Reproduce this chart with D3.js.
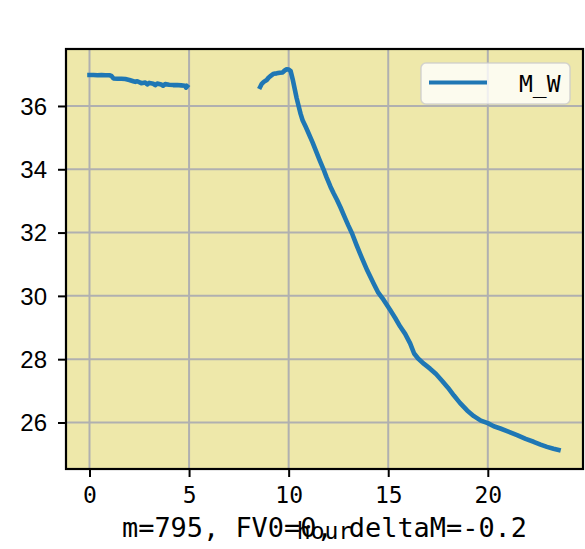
<!DOCTYPE html>
<html><head><meta charset="utf-8">
<script src="https://cdn.jsdelivr.net/npm/d3@7"></script>
<style>body{margin:0;background:#fff}</style>
</head><body>
<script>
// ---- data ----
const seg1X = [0.0,0.2,0.4,0.6,0.8,1.0,1.1,1.2,1.4,1.6,1.8,2.0,2.2,2.3,2.4,2.6,2.8,2.9,3.0,3.2,3.3,3.4,3.6,3.7,3.8,4.0,4.2,4.4,4.6,4.8,4.85,4.9];
const seg1Y = [36.98,36.98,36.97,36.98,36.97,36.97,36.95,36.87,36.86,36.86,36.85,36.82,36.78,36.76,36.78,36.72,36.74,36.68,36.73,36.70,36.66,36.71,36.68,36.64,36.69,36.67,36.66,36.66,36.65,36.64,36.58,36.62];
const seg2X = [8.57,8.65,8.75,8.9,9.0,9.1,9.25,9.4,9.55,9.7,9.8,9.9,10.0,10.1,10.2,10.3,10.4,10.5,10.6,10.7,10.85,11.0,11.2,11.35,11.55,11.75,11.9,12.1,12.25,12.43,12.6,12.84,13.0,13.18,13.4,13.68,13.95,14.26,14.5,14.77,15.1,15.35,15.6,15.85,16.1,16.3,16.5,16.8,17.1,17.4,17.7,18.0,18.3,18.6,18.96,19.3,19.65,20.0,20.3,20.63,21.0,21.47,21.9,22.3,22.65,22.97,23.3,23.55];
const seg2Y = [36.60,36.70,36.76,36.82,36.90,36.95,37.02,37.03,37.05,37.06,37.12,37.16,37.15,37.10,36.85,36.55,36.25,36.00,35.75,35.55,35.35,35.14,34.85,34.61,34.30,34.00,33.75,33.45,33.25,33.03,32.80,32.45,32.22,31.98,31.62,31.19,30.80,30.40,30.10,29.87,29.55,29.30,29.03,28.80,28.50,28.18,28.02,27.85,27.70,27.53,27.32,27.10,26.85,26.62,26.38,26.20,26.06,25.98,25.88,25.81,25.72,25.60,25.48,25.39,25.30,25.23,25.17,25.13];
const xTicks = [0,5,10,15,20];
const yTicks = [26,28,30,32,34,36];
const xLimits = [-1.18, 24.78];
const yLimits = [24.53, 37.80];
const seriesName = "M_W";
const xLabel = "hour";
const bottomText = "m=795, FV0=0, deltaM=-0.2";

// ---- layout ----
const W = 585, H = 549;
const L = 66, R = 583, T = 49, B = 469;
const svg = d3.select("body").append("svg").attr("width", W).attr("height", H);
const x = d3.scaleLinear().domain(xLimits).range([L, R]);
const y = d3.scaleLinear().domain(yLimits).range([B, T]);

svg.append("rect").attr("x", L).attr("y", T).attr("width", R - L).attr("height", B - T).attr("fill", "#EEE8AA");

// grid
const g = svg.append("g");
g.selectAll(".vg").data(xTicks).join("line")
  .attr("x1", d => x(d)).attr("x2", d => x(d)).attr("y1", T).attr("y2", B)
  .attr("stroke", "#b0b0b0").attr("stroke-width", 2);
g.selectAll(".hg").data(yTicks).join("line")
  .attr("y1", d => y(d)).attr("y2", d => y(d)).attr("x1", L).attr("x2", R)
  .attr("stroke", "#b0b0b0").attr("stroke-width", 2);

// data
const pts = seg1X.map((d, i) => [d, seg1Y[i]]).concat([[null, null]]).concat(seg2X.map((d, i) => [d, seg2Y[i]]));
const line = d3.line().defined(d => d[0] !== null).x(d => x(d[0])).y(d => y(d[1]));
svg.append("path").datum(pts).attr("d", line).attr("fill", "none")
  .attr("stroke", "#1f77b4").attr("stroke-width", 4.6)
  .attr("stroke-linejoin", "round").attr("stroke-linecap", "square");

// axes
const xAxis = d3.axisBottom(x).tickValues(xTicks).tickSize(8).tickPadding(6).tickFormat(d3.format("d"));
const yAxis = d3.axisLeft(y).tickValues(yTicks).tickSize(8).tickPadding(10).tickFormat(d3.format("d"));
const gx = svg.append("g").attr("transform", `translate(0,${B})`).call(xAxis);
const gy = svg.append("g").attr("transform", `translate(${L},0)`).call(yAxis);
[gx, gy].forEach(a => {
  a.select(".domain").remove();
  a.selectAll(".tick line").attr("stroke", "#000").attr("stroke-width", 2);
});
gx.selectAll(".tick text").attr("font-family", "DejaVu Sans Mono").attr("font-size", 23).attr("fill", "#000")
  .attr("dy", null).attr("y", 34).attr("dominant-baseline", "auto");
gy.selectAll(".tick text").attr("font-family", "Liberation Sans, Arial").attr("font-size", 24).attr("fill", "#000")
  .attr("x", -19).attr("dy", "0.35em");

// frame
svg.append("rect").attr("x", L).attr("y", T).attr("width", R - L).attr("height", B - T)
  .attr("fill", "none").attr("stroke", "#000").attr("stroke-width", 2.2);

// legend
const lg = svg.append("g");
lg.append("rect").attr("x", 421).attr("y", 63).attr("width", 149).attr("height", 41).attr("rx", 5)
  .attr("fill", "rgba(255,255,255,0.8)").attr("stroke", "rgba(204,204,204,0.8)").attr("stroke-width", 1.5);
lg.append("line").attr("x1", 429).attr("x2", 487).attr("y1", 82.5).attr("y2", 82.5)
  .attr("stroke", "#1f77b4").attr("stroke-width", 4);
lg.append("text").attr("x", 519).attr("y", 92).attr("font-family", "DejaVu Sans Mono").attr("font-size", 23)
  .attr("fill", "#000").text(seriesName);

// labels
svg.append("text").attr("x", 122).attr("y", 537).attr("font-family", "DejaVu Sans Mono").attr("font-size", 26)
  .attr("textLength", 405).attr("lengthAdjust", "spacingAndGlyphs").attr("fill", "#000").text(bottomText);
svg.append("text").attr("x", (L + R) / 2).attr("y", 539).attr("text-anchor", "middle")
  .attr("font-family", "DejaVu Sans Mono").attr("font-size", 23).attr("fill", "#000").text(xLabel);
</script>
</body></html>
